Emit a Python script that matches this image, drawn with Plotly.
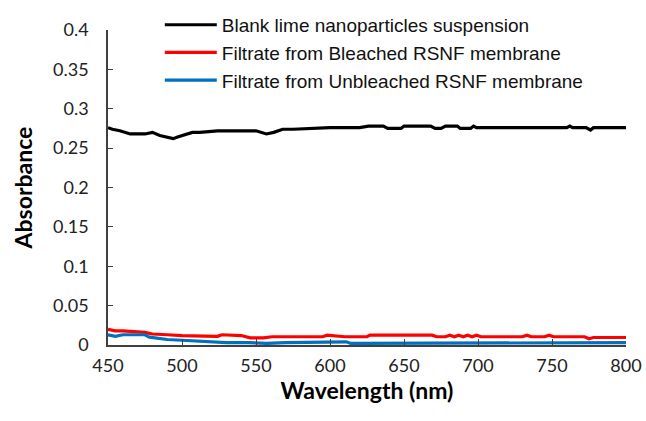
import plotly.graph_objects as go

# Data
wl_blank = [450, 453, 458, 465, 475, 480, 485, 490, 494, 497, 502, 507, 512, 520, 524, 550, 553, 557,
            562, 568, 575, 595, 600, 620, 626, 636, 639, 648, 650, 668, 671, 675, 678, 686, 688, 695,
            697, 699, 702, 760, 762, 764, 773, 776, 778, 800]
blank = [0.276, 0.274, 0.272, 0.268, 0.268, 0.270, 0.266, 0.264, 0.262, 0.264, 0.267, 0.270, 0.270,
         0.272, 0.272, 0.272, 0.270, 0.268, 0.270, 0.274, 0.274, 0.2755, 0.276, 0.276, 0.278, 0.278,
         0.275, 0.275, 0.278, 0.278, 0.275, 0.275, 0.278, 0.278, 0.275, 0.275, 0.278, 0.276, 0.276,
         0.276, 0.278, 0.276, 0.276, 0.273, 0.276, 0.276]

wl_bleached = [450, 455, 460, 470, 475, 480, 485, 490, 500, 515, 520, 524, 527, 540, 546, 555, 561,
               595, 598, 607, 610, 625, 627, 669, 672, 678, 681, 684, 687, 690, 693, 696, 699, 702,
               730, 733, 736, 745, 748, 751, 772, 775, 778, 800]
bleached = [0.020, 0.018, 0.018, 0.017, 0.016, 0.014, 0.014, 0.013, 0.012, 0.012, 0.012, 0.011,
            0.013, 0.012, 0.009, 0.009, 0.0105, 0.0105, 0.0125, 0.0105, 0.0105, 0.0105, 0.0125,
            0.0125, 0.0105, 0.0105, 0.0125, 0.0105, 0.0125, 0.0105, 0.0125, 0.0105, 0.0125, 0.0105,
            0.0105, 0.0125, 0.0105, 0.0105, 0.0125, 0.0105, 0.0105, 0.008, 0.0095, 0.0095]

wl_unbleached = [450, 455, 460, 475, 478, 490, 500, 510, 520, 530, 545, 557, 570, 597, 600, 611, 614,
                 650, 700, 800]
unbleached = [0.013, 0.011, 0.013, 0.013, 0.010, 0.007, 0.006, 0.005, 0.004, 0.003, 0.003, 0.002,
              0.003, 0.003, 0.004, 0.004, 0.002, 0.002, 0.003, 0.003]

names = ["Blank lime nanoparticles suspension",
         "Filtrate from Bleached RSNF membrane",
         "Filtrate from Unbleached RSNF membrane"]
colors = ["#000000", "#ff0000", "#0070c0"]

x_ticks = [450, 500, 550, 600, 650, 700, 750, 800]

fig = go.Figure()
for i, (xs, ys) in enumerate([(wl_blank, blank), (wl_bleached, bleached), (wl_unbleached, unbleached)]):
    fig.add_trace(go.Scatter(x=xs, y=ys, mode="lines", name=names[i], legendgroup=f"g{i}",
                             line=dict(color=colors[i], width=3.2)))

tick_font = dict(family="Lato, Open Sans, sans-serif", size=18, color="#222222")
title_font = dict(family="Lato, Open Sans, sans-serif", size=23, color="#000000", weight="bold")

fig.update_layout(
    width=646, height=421,
    margin=dict(l=108, r=20, t=30, b=76, autoexpand=False),
    paper_bgcolor="white", plot_bgcolor="white",
    showlegend=True,
    legend=dict(x=0.1, y=0.986, xanchor="left", yanchor="top", yref="container",
                font=dict(family="Liberation Sans, Arial, sans-serif", size=19, color="#111111"),
                bgcolor="rgba(0,0,0,0)", tracegroupgap=0, traceorder="normal",
                itemwidth=52),
    xaxis=dict(range=[450, 800], tickvals=x_ticks, showgrid=False, zeroline=False,
               showline=True, linecolor="#404040", linewidth=1.5, automargin=False,
               ticks="inside", ticklen=6, tickcolor="#404040",
               tickfont=tick_font, ticklabelstandoff=4, ticklabeloverflow="allow",
               title=dict(text="Wavelength (nm)", font=title_font, standoff=8)),
    yaxis=dict(range=[0, 0.4], dtick=0.05, showgrid=False, zeroline=False,
               showline=True, linecolor="#404040", linewidth=1.5, automargin=False,
               ticks="inside", ticklen=5, tickcolor="#404040",
               tickfont=tick_font, ticklabelstandoff=14,
               title=dict(text="Absorbance", font=title_font, standoff=14)),
)

# remove the default 8px page margin so the figure fills the window exactly; hide the modebar
fig.write_html("out.html", config={"displayModeBar": False},
               post_script="document.body.style.margin='0';document.body.style.overflow='hidden';")
